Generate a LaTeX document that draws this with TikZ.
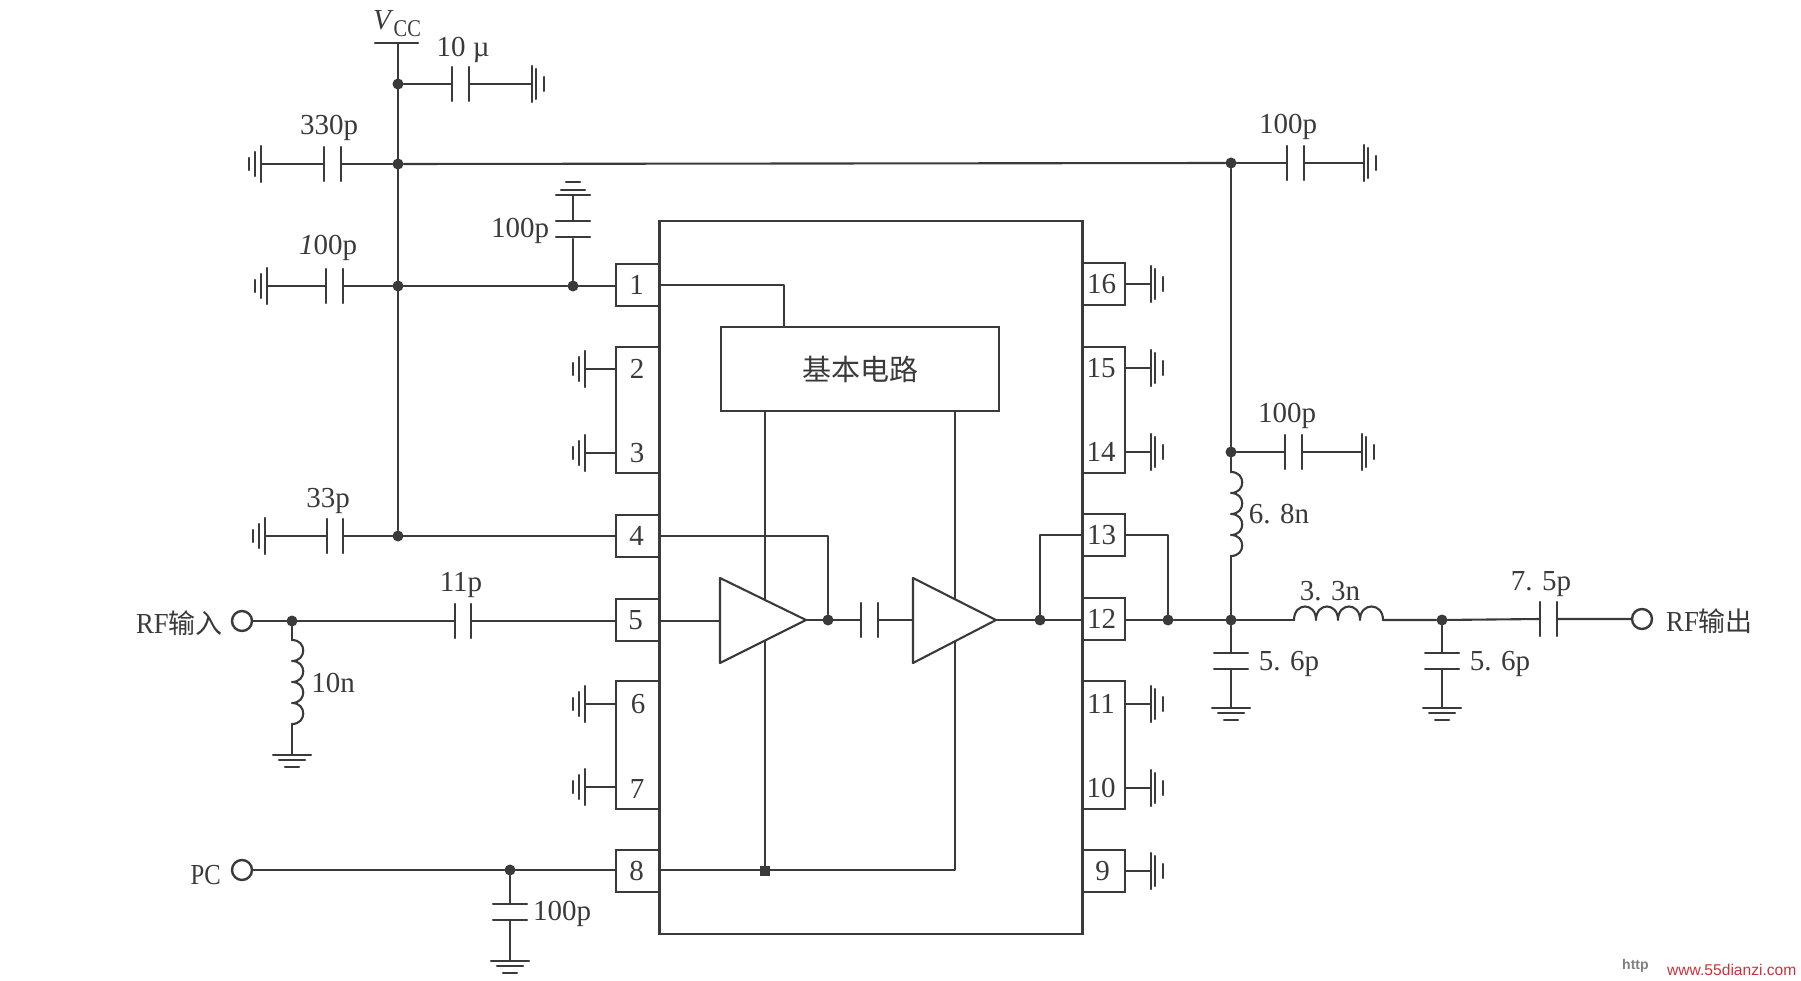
\documentclass[tikz,border=0pt]{standalone}
\usepackage{graphicx}
\usepackage{fontspec}
\setmainfont{Liberation Serif}
\newfontfamily\cjkf{Noto Sans CJK SC}
\newfontfamily\webf{Liberation Sans}
\definecolor{ink}{HTML}{3A3A3A}
\definecolor{webred}{HTML}{C8323C}
\newcommand{\shiftl}[2]{\kern-#1pt #2\kern#1pt}
\tikzset{
  wire/.style={ink,line width=2.1pt,line cap=round,line join=round},
  lbl/.style={inner sep=0pt,text=ink,font=\fontsize{29}{31}\selectfont},
  pinbox/.style={draw=ink,line width=2.1pt,inner sep=0pt,text=ink,font=\fontsize{29}{31}\selectfont,minimum width=43pt,minimum height=42pt},
  tallbox/.style={pinbox,minimum height=126pt},
  dot/.style={circle,fill=ink,inner sep=0pt,minimum size=11pt},
  term/.style={circle,draw=ink,line width=2.4pt,fill=white,inner sep=0pt,minimum size=20pt},
  gndl/.pic={\draw[wire] (0,-18)--(0,18) (-6,-12)--(-6,12) (-12,-6)--(-12,6);},
  gndr/.pic={\draw[wire] (0,-18)--(0,18) (4,-15)--(4,15) (12,-7)--(12,7);},
  gndd/.pic={\draw[wire] (-19,0)--(19,0) (-13,5)--(13,5) (-7,12)--(7,12);},
  gndu/.pic={\draw[wire] (-17,0)--(17,0) (-12,-5)--(12,-5) (-7,-13)--(7,-13);},
  hplates/.pic={\draw[wire] (0,-17)--(0,17) (17,-17)--(17,17);},
  vplates/.pic={\draw[wire] (-17,0)--(17,0) (-17,16)--(17,16);},
  vcoil/.pic={\draw[wire] (0,0) .. controls (15,0) and (15,21) .. (0,21) .. controls (15,21) and (15,42) .. (0,42) .. controls (15,42) and (15,63) .. (0,63) .. controls (15,63) and (15,84) .. (0,84);},
  hcoil/.pic={\draw[wire] (0,0) .. controls (0,-18) and (22,-18) .. (22,0) .. controls (22,-18) and (44,-18) .. (44,0) .. controls (44,-18) and (66,-18) .. (66,0) .. controls (66,-18) and (89,-18) .. (89,0);},
}
\begin{document}
\begin{tikzpicture}[x=1pt,y=-1pt]
\useasboundingbox (0,0) rectangle (1801,981);
% chip and pin boxes
\node[draw=ink,line width=2.1pt,minimum width=423pt,minimum height=713pt,inner sep=0pt] (chip) at (871,577.5) {};
\node[pinbox] (p1) at (637.5,285) {\shiftl{1}{1}};
\node[tallbox] (p23) at (637.5,410) {};
\node[lbl] (p2) at (637,369) {2};
\node[lbl] (p3) at (637,453) {3};
\node[pinbox] (p4) at (637.5,536) {\shiftl{1}{4}};
\node[pinbox] (p5) at (637.5,620) {\shiftl{2}{5}};
\node[tallbox,minimum height=128pt] (p67) at (637.5,745) {};
\node[lbl] (p6) at (638,704) {6};
\node[lbl] (p7) at (637,789) {7};
\node[pinbox] (p8) at (637.5,871) {\shiftl{1}{8}};
\node[pinbox] (p16) at (1103.5,284) {\shiftl{2}{16}};
\node[tallbox] (p1514) at (1103.5,410) {};
\node[lbl] (p15) at (1101,368) {15};
\node[lbl] (p14) at (1101,452) {14};
\node[pinbox] (p13) at (1103.5,535) {\shiftl{2}{13}};
\node[pinbox] (p12) at (1103.5,619) {\shiftl{2}{12}};
\node[tallbox,minimum height=128pt] (p1110) at (1103.5,745) {};
\node[lbl] (p11) at (1101,704) {11};
\node[lbl] (p10) at (1101,788) {10};
\node[pinbox] (p9) at (1103.5,871) {\shiftl{1}{9}};
\node[draw=ink,line width=2.1pt,fill=white,minimum width=278pt,minimum height=84pt,inner sep=0pt,text=ink,font=\cjkf\fontsize{29}{31}\selectfont] (core) at (860,369) {基本电路};
% junctions
\coordinate (vtop) at (398,43);
\node[dot] (j10u) at (398,84) {};
\node[dot] (j330) at (398,164) {};
\node[dot] (j100) at (398,286) {};
\node[dot] (j4) at (398,536) {};
\node[dot] (j1c) at (573,286) {};
\node[dot] (jrf) at (292,621) {};
\node[dot] (jpc) at (510,870) {};
\node[dot] (jam) at (828,620) {};
\node[dot] (jo1) at (1040,620) {};
\node[dot] (jo2) at (1168,620) {};
\node[dot] (jo3) at (1231,620) {};
\node[dot] (jtr) at (1231,163) {};
\node[dot] (jmr) at (1231,452) {};
\node[dot] (jo4) at (1442,620) {};
\node[dot,rectangle,minimum size=10pt] (jcore) at (765,871) {};
\node[term] (trf) at (242,621) {};
\node[term] (tpc) at (242,870) {};
\node[term] (tout) at (1642,619) {};
% named points
\coordinate (c10a) at (452,84); \coordinate (c10b) at (470,84); \coordinate (g10) at (532,84);
\coordinate (c330a) at (324,164); \coordinate (c330b) at (342,164); \coordinate (g330) at (261,164);
\coordinate (c100a) at (326,286); \coordinate (c100b) at (344,286); \coordinate (g100) at (267,286);
\coordinate (c33a) at (327,536); \coordinate (c33b) at (343,536); \coordinate (g33) at (265,536);
\coordinate (cua) at (573,239); \coordinate (cub) at (573,221); \coordinate (gu) at (573,195);
\coordinate (c11a) at (455,621); \coordinate (c11b) at (471,621);
\coordinate (gL2) at (585,369); \coordinate (gL3) at (585,453); \coordinate (gL6) at (585,704); \coordinate (gL7) at (585,787);
\coordinate (gR16) at (1151,284); \coordinate (gR15) at (1151,368); \coordinate (gR14) at (1151,452);
\coordinate (gR11) at (1151,704); \coordinate (gR10) at (1151,788); \coordinate (gR9) at (1151,871);
\coordinate (cpa) at (510,904); \coordinate (cpb) at (510,920); \coordinate (gp) at (510,961);
\coordinate (l10a) at (292,640); \coordinate (l10b) at (292,724); \coordinate (g10n) at (292,755);
\coordinate (ctra) at (1287,163); \coordinate (ctrb) at (1304,163); \coordinate (gtr) at (1364,163);
\coordinate (cmra) at (1285,452); \coordinate (cmrb) at (1302,452); \coordinate (gmr) at (1362,452);
\coordinate (l68a) at (1231,472); \coordinate (l68b) at (1231,556);
\coordinate (l33a) at (1294,620); \coordinate (l33b) at (1383,620);
\coordinate (c56a) at (1231,653); \coordinate (c56b) at (1231,669); \coordinate (g56a) at (1231,708);
\coordinate (c56c) at (1442,653); \coordinate (c56d) at (1442,669); \coordinate (g56b) at (1442,708);
\coordinate (c75a) at (1540,619); \coordinate (c75b) at (1557,619);
\coordinate (cca) at (861,620); \coordinate (ccb) at (878,620);
\coordinate (t1in) at (720,621); \coordinate (t1tip) at (806,620);
\coordinate (t2in) at (913,620); \coordinate (t2tip) at (996,620);
% supply side wires
\draw[wire] (375,43)--(418,43);
\draw[wire] (vtop)--(j4);
\draw[wire] (j10u)--(c10a) (c10b)--(g10);
\draw[wire] (g330)--(c330a) (c330b)--(j330);
\draw[wire] (j330)--(jtr);
\draw[wire] (g100)--(c100a) (c100b)--(j100);
\draw[wire] (j100)--(j1c)--(p1.west |- j1c);
\draw[wire] (j1c)--(cua) (cub)--(gu);
\draw[wire] (g33)--(c33a) (c33b)--(j4);
\draw[wire] (j4)--(p4.west);
% input
\draw[wire] (trf)--(jrf)--(c11a) (c11b)--(p5.west |- c11b);
\draw[wire] (jrf)--(l10a) (l10b)--(g10n);
\pic at (l10a) {vcoil};
\draw[wire] (tpc)--(jpc)--(p8.west |- jpc);
\draw[wire] (jpc)--(cpa) (cpb)--(gp);
% left pin grounds
\draw[wire] (p23.west |- gL2)--(gL2) (p23.west |- gL3)--(gL3);
\draw[wire] (p67.west |- gL6)--(gL6) (p67.west |- gL7)--(gL7);
% inside chip
\draw[wire] (p1.east)--(784,285)--(784,327);
\draw[wire] (p4.east)--(828,536)--(jam);
\draw[wire] (p5.east |- t1in)--(t1in);
\draw[wire] (p8.east |- jpc)--(955,870)--(955,411);
\draw[wire] (765,411)--(jcore);
\draw[wire] (t1tip)--(cca) (ccb)--(t2in);
\draw[wire] (t2tip)--(p12.west |- t2tip);
\draw[wire] (jo1)--(1040,535)--(p13.west);
\draw[wire,fill=white] (t1in |- 0,578)--(t1tip)--(t1in |- 0,663)--cycle;
\draw[wire,fill=white] (t2in |- 0,578)--(t2tip)--(t2in |- 0,663)--cycle;
% right side
\draw[wire] (p13.east)--(1168,535)--(jo2);
\draw[wire] (p12.east |- jo2)--(jo2)--(jo3)--(l33a);
\pic at (l33a) {hcoil};
\draw[wire] (l33b)--(jo4)--(c75a) (c75b)--(tout);
\draw[wire] (jtr)--(jmr)--(l68a) (l68b)--(jo3);
\pic at (l68a) {vcoil};
\draw[wire] (jtr)--(ctra) (ctrb)--(gtr);
\draw[wire] (jmr)--(cmra) (cmrb)--(gmr);
\draw[wire] (jo3)--(c56a) (c56b)--(g56a);
\draw[wire] (jo4)--(c56c) (c56d)--(g56b);
\draw[wire] (p16.east)--(gR16) (p1514.east |- gR15)--(gR15) (p1514.east |- gR14)--(gR14);
\draw[wire] (p1110.east |- gR11)--(gR11) (p1110.east |- gR10)--(gR10) (p9.east |- gR9)--(gR9);
% capacitors
\pic at (c10a) {hplates}; \pic at (c330a) {hplates}; \pic at (c100a) {hplates};
\pic[xscale=.95] at (c33a) {hplates}; \pic[xscale=.95] at (c11a) {hplates}; \pic at (cca) {hplates};
\pic at (ctra) {hplates}; \pic at (cmra) {hplates}; \pic at (c75a) {hplates};
\pic at (cub) {vplates}; \pic at (cpa) {vplates}; \pic at (c56a) {vplates}; \pic at (c56c) {vplates};
% grounds
\pic at (g10) {gndr}; \pic at (gtr) {gndr}; \pic at (gmr) {gndr};
\pic at (g330) {gndl}; \pic at (g100) {gndl}; \pic at (g33) {gndl};
\pic at (gL2) {gndl}; \pic at (gL3) {gndl}; \pic at (gL6) {gndl}; \pic at (gL7) {gndl};
\pic at (gR16) {gndr}; \pic at (gR15) {gndr}; \pic at (gR14) {gndr};
\pic at (gR11) {gndr}; \pic at (gR10) {gndr}; \pic at (gR9) {gndr};
\pic at (gu) {gndu}; \pic at (gp) {gndd}; \pic at (g10n) {gndd}; \pic at (g56a) {gndd}; \pic at (g56b) {gndd};
% labels
\node[lbl] (tvcc) at (397,24) {\textit{V}\raisebox{-7pt}{\fontsize{24}{26}\selectfont\scalebox{.85}[1]{CC}}};
\node[lbl] (t10u) at (463,50) {10 µ};
\node[lbl] (t330) at (329,128) {330p};
\node[lbl] (t100a) at (328,248) {\textit{1}00p};
\node[lbl] (t100b) at (520,231) {100p};
\node[lbl] (t33) at (328,501) {33p};
\node[lbl] (t11) at (461,585) {11p};
\node[lbl] (t10n) at (333,683) {10n};
\node[lbl] (t100c) at (562,914) {100p};
\node[lbl,anchor=east] (trfin) at (223,623) {\scalebox{.92}[1]{RF}{\cjkf\fontsize{27}{29}\selectfont 输入}};
\node[lbl,anchor=east] (tpcl) at (221,875) {\scalebox{.85}[1]{PC}};
\node[lbl] (t100d) at (1288,127) {100p};
\node[lbl] (t100e) at (1287,416) {100p};
\node[lbl] (t68) at (1279,514) {6. 8n};
\node[lbl] (t33n) at (1330,591) {3. 3n};
\node[lbl] (t56a) at (1289,664) {5. 6p};
\node[lbl] (t56b) at (1500,664) {5. 6p};
\node[lbl] (t75) at (1541,584) {7. 5p};
\node[lbl,anchor=west] (trfout) at (1666,621) {\scalebox{.92}[1]{RF}{\cjkf\fontsize{27}{29}\selectfont 输出}};
\node[inner sep=0pt,anchor=west,text=gray,font=\webf\bfseries\fontsize{14}{16}\selectfont] (wm1) at (1622,966) {http};
\node[inner sep=0pt,anchor=west,text=webred,font=\webf\fontsize{15.6}{18}\selectfont] (wm2) at (1667,970) {www.55dianzi.com};
\end{tikzpicture}
\end{document}
